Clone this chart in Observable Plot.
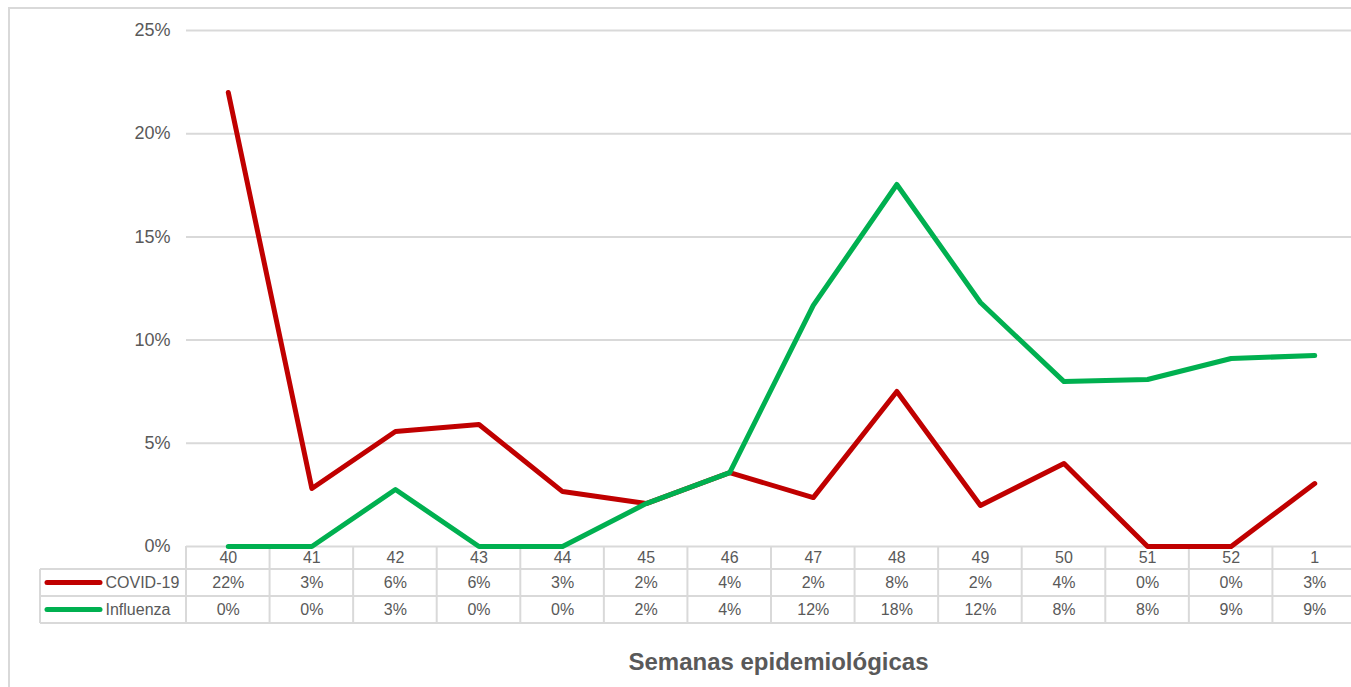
<!DOCTYPE html>
<html>
<head>
<meta charset="utf-8">
<script src="https://cdn.jsdelivr.net/npm/d3@7"></script>
<script src="https://cdn.jsdelivr.net/npm/@observablehq/plot@0.6"></script>
<style>
  html, body { margin: 0; padding: 0; background: #fff; overflow: hidden; }
  #chart { position: absolute; left: 0; top: 0; width: 1351px; height: 687px; overflow: hidden; }
  #chart svg { max-width: none !important; }
  #frame { position: absolute; left: 8px; top: 7px; width: 1400px; height: 700px; border-left: 2px solid #d9d9d9; border-top: 2px solid #d9d9d9; box-sizing: border-box; }
</style>
</head>
<body>
<div id="frame"></div>
<div id="chart"></div>
<script>
const weeks = ["40","41","42","43","44","45","46","47","48","49","50","51","52","1"];
const covid = [22.0, 2.81, 5.57, 5.91, 2.66, 2.08, 3.58, 2.37, 7.51, 1.99, 4.02, 0, 0, 3.05];
const influenza = [0, 0, 2.76, 0, 0, 2.08, 3.58, 11.68, 17.54, 11.82, 7.99, 8.09, 9.11, 9.25];
const seriesNames = ["COVID-19", "Influenza"];
const seriesColors = ["#C00000", "#00B050"];
const yTicks = [0, 5, 10, 15, 20, 25];
const xTitle = "Semanas epidemiológicas";

const seriesValues = [covid, influenza];
const rows = seriesNames.flatMap((s, si) =>
  weeks.map((w, i) => ({series: s, week: w, value: seriesValues[si][i], row: si})));

const gridColor = "#d9d9d9";
const textColor = "#595959";
const rowOffsets = [23, 50, 77]; // bottom of header row, COVID row, Influenza row (px below 0%)

function tableGrid(index, scales, values, dimensions) {
  const x = scales.x, y = scales.y;
  const step = x(weeks[1]) - x(weeks[0]);
  const y0 = y(0);
  const g = d3.create("svg:g").attr("stroke", gridColor).attr("stroke-width", 2).attr("fill", "none");
  const right = x(weeks[weeks.length - 1]) + step / 2;
  const legendLeft = 40;
  rowOffsets.forEach(o => {
    g.append("line").attr("x1", legendLeft).attr("x2", right).attr("y1", y0 + o).attr("y2", y0 + o);
  });
  weeks.forEach(w => {
    const xb = x(w) - step / 2;
    g.append("line").attr("x1", xb).attr("x2", xb).attr("y1", y0).attr("y2", y0 + rowOffsets[2]);
  });
  g.append("line").attr("x1", right).attr("x2", right).attr("y1", y0).attr("y2", y0 + rowOffsets[2]);
  g.append("line").attr("x1", legendLeft).attr("x2", legendLeft).attr("y1", y0 + rowOffsets[0]).attr("y2", y0 + rowOffsets[2]);
  seriesColors.forEach((c, i) => {
    const yc = y0 + (rowOffsets[i] + rowOffsets[i + 1]) / 2;
    g.append("line").attr("x1", 47).attr("x2", 100).attr("y1", yc).attr("y2", yc)
      .attr("stroke", c).attr("stroke-width", 5).attr("stroke-linecap", "round");
  });
  return g.node();
}

const chart = Plot.plot({
  width: 1356,
  height: 687,
  marginTop: 30,
  marginBottom: 141,
  marginLeft: 186,
  marginRight: 0,
  style: {fontFamily: "'Liberation Sans', Arial, sans-serif", fontSize: "16px", color: textColor, background: "transparent", overflow: "visible", maxWidth: "none"},
  x: {type: "point", domain: weeks, padding: 0.5, round: false, axis: null},
  y: {domain: [0, 25], ticks: yTicks, label: null},
  color: {domain: seriesNames, range: seriesColors},
  marks: [
    Plot.gridY(yTicks, {stroke: gridColor, strokeOpacity: 1, strokeWidth: 2}),
    Plot.axisY(yTicks, {tickSize: 0, tickPadding: 16, fontSize: 18, fill: textColor, tickFormat: d => d + "%", label: null}),
    tableGrid,
    Plot.line(rows, {x: "week", y: "value", z: "series", stroke: "series", strokeWidth: 5, strokeLinecap: "round", strokeLinejoin: "round"}),
    Plot.text(weeks, {x: d => d, text: d => d, frameAnchor: "bottom", lineAnchor: "middle", dy: 11.5, fill: textColor, fontSize: 16}),
    Plot.text(rows, {x: "week", text: d => Math.round(d.value) + "%", frameAnchor: "bottom", lineAnchor: "middle", fill: textColor, fontSize: 16, filter: d => d.row === 0, dy: 36.5}),
    Plot.text(rows, {x: "week", text: d => Math.round(d.value) + "%", frameAnchor: "bottom", lineAnchor: "middle", fill: textColor, fontSize: 16, filter: d => d.row === 1, dy: 63.5}),
    Plot.text([seriesNames[0]], {text: d => d, frameAnchor: "bottom-left", lineAnchor: "middle", dx: -81, dy: 36.5, textAnchor: "start", fill: textColor, fontSize: 16}),
    Plot.text([seriesNames[1]], {text: d => d, frameAnchor: "bottom-left", lineAnchor: "middle", dx: -81, dy: 63.5, textAnchor: "start", fill: textColor, fontSize: 16}),
    Plot.text([xTitle], {text: d => d, frameAnchor: "bottom", lineAnchor: "middle", dx: 7, dy: 116, fill: textColor, fontSize: 24, fontWeight: "bold"})
  ]
});
document.getElementById("chart").appendChild(chart);
</script>
</body>
</html>
